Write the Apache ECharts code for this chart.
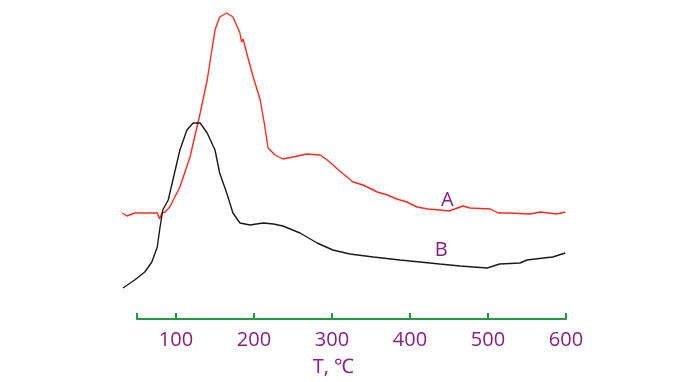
<!DOCTYPE html>
<html><head><meta charset="utf-8">
<script src="https://cdn.jsdelivr.net/npm/echarts@6/dist/echarts.min.js"></script>
<style>html,body{margin:0;padding:0;background:#fff}#c{width:682px;height:382px}</style>
</head><body><div id="c"></div>
<script>
// Curve A (red): [T, signal]
const seriesA = [[31,109],[37,106],[38,108],[47,109],[76,109],[79,103],[82,109],[86,110],[92,115],[105,135],[118,165],[131,209],[140,242],[150,292],[156,305],[165,309],[173,305],[182,289],[184,280],[186,283],[188,277],[192,265],[199,245],[208,222],[214,195],[218,174],[227,167],[237,163],[250,165],[268,168],[285,167],[294,162],[310,151],[327,140],[340,137],[358,130],[371,127],[383,123],[396,120],[409,115],[423,113],[438,112],[450,111],[468,116],[477,114],[503,113],[513,109],[526,109],[554,108],[567,110],[588,108],[599,110]];
// Curve B (black)
const seriesB = [[32,34],[47,42],[60,50],[69,60],[76,75],[79,92],[83,112],[90,122],[96,142],[105,172],[114,192],[122,199],[131,199],[140,189],[150,172],[156,149],[165,129],[173,109],[182,99],[195,97],[203,98],[212,99],[225,98],[237,96],[259,89],[281,79],[301,72],[323,68],[353,65],[387,62],[413,60],[438,58],[464,56],[499,54],[515,58],[541,59],[550,62],[571,64],[583,65],[599,69]];
const tickValues = [50,100,200,300,400,500,600];
const labelValues = [100,200,300,400,500,600];
const curveLabels = [{name:'A', x:448, y:122},{name:'B', x:440, y:72}];

const purple = '#8a1f7f';
const chart = echarts.init(document.getElementById('c'));
chart.setOption({
  animation:false,
  grid:[
    {left:121.4, right:116, top:12, bottom:60},
    {left:137, right:116, top:12, bottom:60}
  ],
  xAxis:[
    {gridIndex:0, type:'value', min:30, max:600, show:false},
    {gridIndex:1, type:'value', min:50, max:600, position:'bottom',
     axisLine:{show:true, lineStyle:{color:'#1f9a3c', width:2}},
     axisTick:{show:true, inside:true, length:6, customValues:tickValues, lineStyle:{color:'#1f9a3c', width:2}},
     axisLabel:{customValues:labelValues, color:purple, fontSize:20, fontFamily:'Open Sans', margin:11},
     splitLine:{show:false},
     name:'T, ℃', nameLocation:'middle', nameGap:38,
     nameTextStyle:{color:purple, fontSize:20, fontFamily:'Open Sans', padding:[0,36,0,0]}}
  ],
  yAxis:[
    {gridIndex:0, type:'value', min:0, max:310, show:false},
    {gridIndex:1, type:'value', min:0, max:310, show:false}
  ],
  series:[
    {type:'line', xAxisIndex:0, yAxisIndex:0, data:seriesA, showSymbol:false, symbol:'none',
     lineStyle:{color:'#ff2a1e', width:1.4},
     markPoint:{symbol:'circle', symbolSize:0, data:[{coord:[curveLabels[0].x, curveLabels[0].y], value:curveLabels[0].name}],
       label:{show:true, formatter:'{c}', color:purple, fontSize:20, fontFamily:'Open Sans', position:'inside'}}},
    {type:'line', xAxisIndex:0, yAxisIndex:0, data:seriesB, showSymbol:false, symbol:'none',
     lineStyle:{color:'#1a1a1a', width:1.4},
     markPoint:{symbol:'circle', symbolSize:0, data:[{coord:[curveLabels[1].x, curveLabels[1].y], value:curveLabels[1].name}],
       label:{show:true, formatter:'{c}', color:purple, fontSize:20, fontFamily:'Open Sans', position:'inside'}}}
  ]
});
</script></body></html>
